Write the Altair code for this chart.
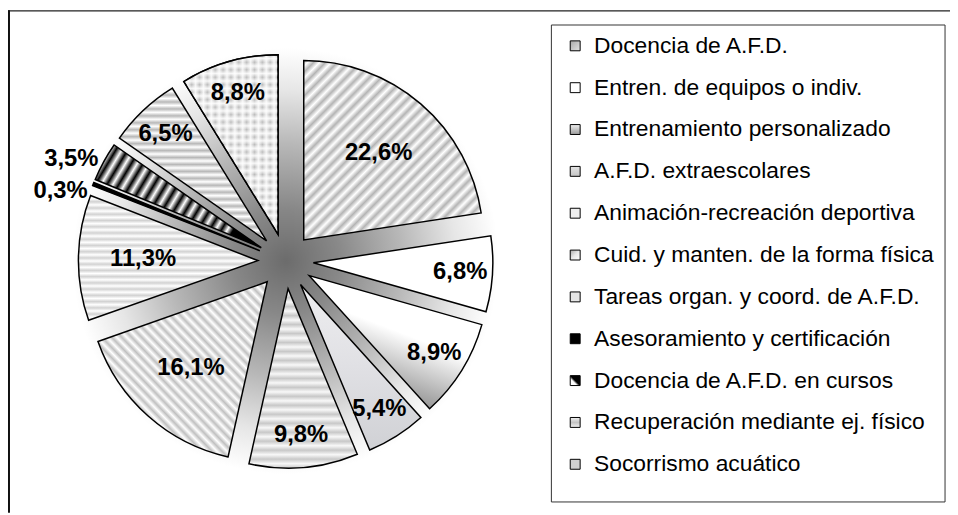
import math
import altair as alt
import pandas as pd

categories = [
    "Docencia de A.F.D.",
    "Entren. de equipos o indiv.",
    "Entrenamiento personalizado",
    "A.F.D. extraescolares",
    "Animación-recreación deportiva",
    "Cuid. y manten. de la forma física",
    "Tareas organ. y coord. de A.F.D.",
    "Asesoramiento y certificación",
    "Docencia de A.F.D. en cursos",
    "Recuperación mediante ej. físico",
    "Socorrismo acuático",
]
values = [22.6, 6.8, 8.9, 5.4, 9.8, 16.1, 11.3, 0.3, 3.5, 6.5, 8.8]
pct_labels = [f"{v:.1f}".replace(".", ",") + "%" for v in values]

df = pd.DataFrame({
    "cat": categories,
    "value": values,
    "label": pct_labels,
    "order": list(range(len(categories))),
})

# ---- layout / style ----
W, H = 950, 507
CX, CY = 280, 253
R = 181
EXPL = 28
BG_R = 215
FONT = "Liberation Sans"


def stripes(c1, c2, n, x1=0.0, y1=0.0, x2=0.0, y2=1.0):
    stops = []
    for i in range(n):
        a = i / n
        stops.append({"offset": round(a, 5), "color": c1})
        stops.append({"offset": round(a + 0.5 / n, 5), "color": c2})
    stops.append({"offset": 1.0, "color": c1})
    return {"gradient": "linear", "x1": x1, "y1": y1, "x2": x2, "y2": y2, "stops": stops}


def linear(stops, x1=0.0, y1=0.0, x2=0.0, y2=1.0):
    return {"gradient": "linear", "x1": x1, "y1": y1, "x2": x2, "y2": y2,
            "stops": [{"offset": o, "color": c} for o, c in stops]}


slice_fills = [
    [stripes("#b4b4b4", "#ffffff", 30, 0, 0, 1, 1)],
    ["#ffffff"],
    [linear([(0, "#ffffff"), (0.45, "#ffffff"), (1, "#6c6c6c")], 0.8, 0, 0.3, 1)],
    [linear([(0, "#eeeef0"), (0.5, "#e0e0e4"), (1, "#d0d1d5")])],
    [stripes("#c8c8c8", "#f8f8f8", 20)],
    [stripes("#c0c0c0", "#ffffff", 34, 0, 1, 1, 0)],
    [stripes("#d2d2d2", "#ffffff", 20)],
    ["#000000"],
    [stripes("#000000", "#ffffff", 16, 0, 0, 1, 0.37)],
    [stripes("#b8b8b8", "#ffffff", 22)],
    [stripes("#bcbcbc", "#f4f4f4", 12, 0, 0, 1, 0),
     stripes("rgba(255,255,255,0)", "rgba(255,255,255,0.85)", 24)],
]

swatch_fills = [
    linear([(0, "#a8a8a8"), (1, "#e4e4e4")], 0, 0, 1, 1),
    "#ffffff",
    linear([(0, "#f0f0f0"), (1, "#9a9a9a")]),
    linear([(0, "#e4e4e4"), (1, "#c4c4c4")]),
    "#eeeeee",
    linear([(0, "#a8a8a8"), (0.5, "#e8e8e8"), (1, "#ffffff")], 0, 0, 1, 1),
    "#e6e6e6",
    "#000000",
    linear([(0, "#ffffff"), (0.35, "#ffffff"), (0.5, "#000000"), (1, "#000000")], 0, 1, 1, 0),
    linear([(0, "#f2f2f2"), (0.5, "#c4c4c4"), (1, "#f2f2f2")]),
    "#d0d0d0",
]

one = alt.Data(values=[{"a": 1}])

base = alt.Chart(df).transform_window(
    cum="sum(value)", sort=[alt.SortField("order")], frame=[None, 0]
).transform_calculate(
    start="datum.cum - datum.value",
    mid="(datum.cum - datum.value / 2) / 100 * 2 * PI",
).transform_calculate(
    cx=f"{CX} + {EXPL} * sin(datum.mid)",
    cy=f"{CY} - {EXPL} * cos(datum.mid)",
    lr=f"datum.value < 5 ? {R + 6} : (datum.value >= 10 ? {0.64 * R} : {0.82 * R})",
).transform_calculate(
    lx="datum.cx + datum.lr * sin(datum.mid)",
    ly="datum.cy - datum.lr * cos(datum.mid)",
)

layers = []

# outer frame (top and left edges)
layers.append(alt.Chart(one).mark_rule(color="#222222", strokeWidth=1.5).encode(
    x=alt.value(0), x2=alt.value(W), y=alt.value(0.75)))
layers.append(alt.Chart(one).mark_rule(color="#111111", strokeWidth=2).encode(
    x=alt.value(1), y=alt.value(0), y2=alt.value(H)))

# radial shading behind the pie
bg = {"gradient": "radial", "x1": 0.5, "y1": 0.5, "r1": 0, "x2": 0.5, "y2": 0.5, "r2": 0.5,
      "stops": [{"offset": 0, "color": "#6c6c6c"}, {"offset": 0.25, "color": "#888888"},
                {"offset": 0.55, "color": "#b8b8b8"}, {"offset": 0.8, "color": "#e6e6e6"},
                {"offset": 1, "color": "#ffffff"}]}
layers.append(alt.Chart(one).mark_arc(radius=BG_R, theta=0, theta2=2 * math.pi, fill=bg).encode(
    x=alt.value(CX), y=alt.value(CY)))

theta_scale = alt.Scale(domain=[0, 100], range=[0, 2 * math.pi])
for i, cat in enumerate(categories):
    for fill in slice_fills[i]:
        layers.append(base.transform_filter(alt.datum.cat == cat).mark_arc(
            radius=R, fill=fill, stroke="black", strokeWidth=1.5, strokeJoin="miter"
        ).encode(
            theta=alt.Theta("start:Q", scale=theta_scale, stack=None),
            theta2=alt.Theta2("cum"),
            x=alt.X("cx:Q", scale=None),
            y=alt.Y("cy:Q", scale=None),
        ))

# percentage labels
lab_enc = dict(x=alt.X("lx:Q", scale=None), y=alt.Y("ly:Q", scale=None), text="label:N")
layers.append(base.transform_filter("datum.value >= 5").mark_text(
    font=FONT, fontSize=24, fontWeight="bold", color="black", align="center", baseline="middle"
).encode(**lab_enc))
layers.append(base.transform_filter("datum.value < 5 && datum.value >= 1").mark_text(
    font=FONT, fontSize=24, fontWeight="bold", color="black", align="right", baseline="middle"
).encode(**lab_enc))
layers.append(base.transform_filter("datum.value < 1").mark_text(
    font=FONT, fontSize=24, fontWeight="bold", color="black", align="right", baseline="top", dy=-3
).encode(**lab_enc))

# legend box
layers.append(alt.Chart(one).mark_rect(fill="white", stroke="#333333", strokeWidth=1).encode(
    x=alt.value(548), x2=alt.value(945), y=alt.value(15), y2=alt.value(496)))

leg_y = alt.Y("cat:N", scale=alt.Scale(type="point", domain=categories, range=[36, 458], padding=0),
              axis=None)
for i, cat in enumerate(categories):
    layers.append(alt.Chart(df).transform_filter(alt.datum.cat == cat).mark_square(
        size=100, fill=swatch_fills[i], stroke="black", strokeWidth=1, opacity=1
    ).encode(x=alt.value(572), y=leg_y))

layers.append(alt.Chart(df).mark_text(
    font=FONT, fontSize=23, color="black", align="left", baseline="middle"
).encode(x=alt.value(591), y=leg_y, text="cat:N"))

chart = alt.layer(*layers).resolve_scale(y="independent", x="independent").properties(
    width=W, height=H, autosize=alt.AutoSizeParams(type="none"), padding=0
).configure_view(stroke=None)

chart.save("out.html", embed_options={"renderer": "svg", "actions": False})
